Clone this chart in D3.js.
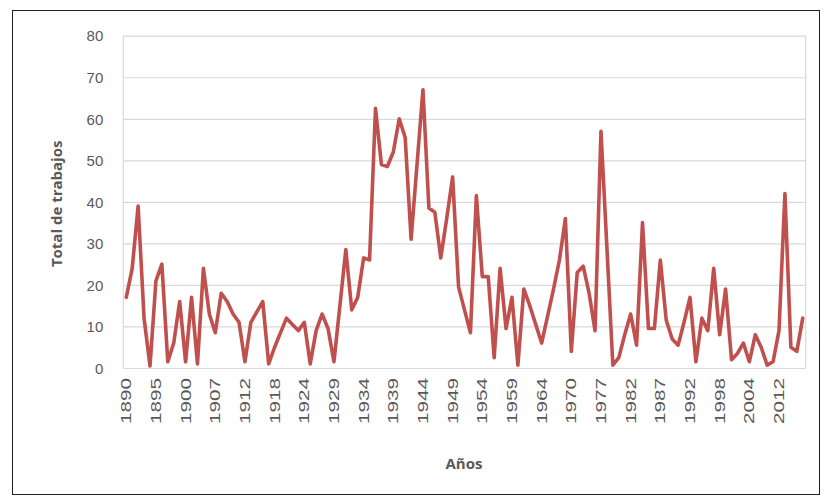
<!DOCTYPE html>
<html>
<head>
<meta charset="utf-8">
<script src="https://cdn.jsdelivr.net/npm/d3@7"></script>
<style>
  html, body { margin: 0; padding: 0; background: #fff; }
  svg { display: block; font-family: "Open Sans", "Liberation Sans", sans-serif; }
</style>
</head>
<body>
<svg id="chart" width="825" height="499"></svg>
<script>
// Category years (Excel category axis; some years absent)
const years = [
  1890,1891,1892,1893,1894,1895,1896,1897,1898,1899,
  1900,1901,1902,1904,1905,1907,1908,1909,1910,1911,
  1912,1913,1914,1915,1916,1918,1919,1920,1921,1923,
  1924,1925,1926,1927,1928,1929,1930,1931,1932,1933,
  1934,1935,1936,1937,1938,1939,1940,1941,1942,1943,
  1944,1945,1946,1947,1948,1949,1950,1951,1952,1953,
  1954,1955,1956,1957,1958,1959,1960,1961,1962,1963,
  1964,1965,1966,1967,1968,1970,1971,1972,1974,1975,
  1977,1978,1979,1980,1981,1982,1983,1984,1985,1986,
  1987,1988,1989,1990,1991,1992,1993,1994,1995,1997,
  1998,1999,2000,2001,2003,2004,2006,2007,2009,2010,
  2012,2013,2014,2015,2016
];
// Total de trabajos per category
const totals = [
  17,24,39,12,0.5,21,25,1.5,6,16,
  1.5,17,1,24,13,8.5,18,16,13,11,
  1.5,11,13.5,16,1,5,8.5,12,10.5,9,
  11,1,9,13,9.5,1.5,15,28.5,14,17,
  26.5,26,62.5,49,48.5,52,60,55.5,31,49,
  67,38.5,37.5,26.5,36,46,19.5,14,8.5,41.5,
  22,22,2.5,24,9.5,17,0.7,19,15,10.5,
  6,12.5,19,26,36,4,23,24.5,18,9,
  57,29,0.7,2.5,8,13,5.5,35,9.5,9.5,
  26,11.5,7,5.5,11,17,1.5,12,9,24,
  8,19,2,3.5,6,1.5,8,5,0.7,1.5,
  9,42,5,4,12
];
const yTicks = [0,10,20,30,40,50,60,70,80];
const labelEvery = 5;
const yTitle = "Total de trabajos";
const xTitle = "Años";

const svg = d3.select("#chart");
const plot = { left: 123.3, right: 805.7, top: 35.7, bottom: 368 };

// outer frame
svg.append("rect")
  .attr("x", 12.5).attr("y", 10.5)
  .attr("width", 807).attr("height", 484)
  .attr("fill", "none").attr("stroke", "#222").attr("stroke-width", 1);

const x = d3.scaleBand().domain(years).range([plot.left, plot.right]).padding(0);
const y = d3.scaleLinear().domain([0, 80]).range([plot.bottom, plot.top]);
const cx = d => x(d) + x.bandwidth() / 2;

// gridlines
const yAxis = d3.axisLeft(y).tickValues(yTicks).tickSize(-(plot.right - plot.left)).tickPadding(20);
const gy = svg.append("g").attr("transform", `translate(${plot.left},0)`).call(yAxis);
gy.select(".domain").remove();
gy.selectAll(".tick line").attr("stroke", "#d9d9d9").attr("stroke-width", 1.2);
gy.selectAll(".tick text")
  .attr("fill", "#595959").attr("font-size", 15).attr("x", -20).attr("dy", "0.35em");

// plot verticals (left/right borders)
svg.append("line").attr("x1", plot.left).attr("x2", plot.left)
  .attr("y1", plot.top).attr("y2", plot.bottom).attr("stroke", "#d9d9d9").attr("stroke-width", 1.2);
svg.append("line").attr("x1", plot.right).attr("x2", plot.right)
  .attr("y1", plot.top).attr("y2", plot.bottom).attr("stroke", "#d9d9d9").attr("stroke-width", 1.2);

// x axis
const xAxis = d3.axisBottom(x)
  .tickValues(years.filter((d, i) => i % labelEvery === 0))
  .tickSize(0).tickPadding(0);
const gx = svg.append("g").attr("transform", `translate(0,${plot.bottom})`).call(xAxis);
gx.select(".domain").attr("stroke", "#d9d9d9").attr("stroke-width", 1.2);
gx.selectAll(".tick text")
  .attr("fill", "#595959").attr("font-size", 14)
  .attr("text-anchor", "end")
  .attr("transform", "rotate(-90)")
  .attr("x", -10).attr("y", 0).attr("dy", "0.35em")
  .attr("textLength", 46).attr("lengthAdjust", "spacingAndGlyphs");

// line
const line = d3.line().x((d, i) => cx(years[i])).y(d => y(d));
svg.append("path").datum(totals)
  .attr("d", line)
  .attr("fill", "none").attr("stroke", "#c0504d")
  .attr("stroke-width", 3.6).attr("stroke-linejoin", "round").attr("stroke-linecap", "round");

// titles
svg.append("text")
  .attr("transform", `translate(62,${(plot.top + plot.bottom) / 2 + 2}) rotate(-90)`)
  .attr("text-anchor", "middle").attr("fill", "#595959")
  .attr("font-size", 15).attr("font-weight", "bold")
  .text(yTitle);
svg.append("text")
  .attr("x", 464).attr("y", 469)
  .attr("text-anchor", "middle").attr("fill", "#595959")
  .attr("font-size", 15).attr("font-weight", "bold")
  .text(xTitle);
</script>
</body>
</html>
